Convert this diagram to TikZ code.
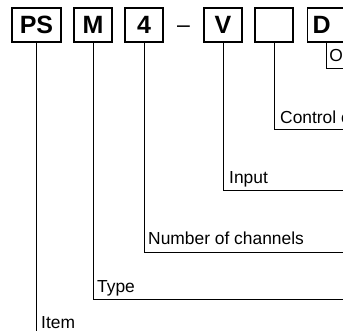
\documentclass[tikz,border=0pt]{standalone}
\usepackage{fontspec}
\setmainfont{Liberation Sans}
\begin{document}
\begin{tikzpicture}[
    x=1pt, y=-1pt,
    code/.style={draw, line width=1.1pt, inner sep=0pt, minimum height=34pt, minimum width=38pt, font=\fontsize{25}{28}\selectfont\bfseries},
    label/.style={anchor=base west, inner sep=0pt, font=\fontsize{17.4}{20}\selectfont},
    lead/.style={line width=0.9pt}
  ]
  \useasboundingbox (0,0) rectangle (343,331);

  % Code boxes of the type number
  \node[code, minimum width=49pt] (ps) at (36.5,25) {PS};
  \node[code] (m) at (93,25) {M};
  \node[code] (ch) at (144,25) {4};
  \node[anchor=base, font=\fontsize{23}{26}\selectfont, inner sep=0pt] (dash) at (183.5,32.5) {–};
  \node[code] (v) at (223,25) {V};
  \node[code] (ctl) at (274,25) {};
  \node[code, anchor=west, text width=40pt, align=left, inner xsep=5pt] (d) at (307,25) {D};
  \node[draw, line width=0.9pt, anchor=north west, minimum height=26pt, text width=30pt, align=left, inner xsep=3pt, font=\fontsize{17.4}{20}\selectfont] (opt) at (326,42) {O};

  % Ends of the leaders, beyond the right edge
  \coordinate (ctlEnd) at (360,129.3);
  \coordinate (inEnd) at (360,190);
  \coordinate (chEnd) at (360,252.3);
  \coordinate (mEnd) at (360,299.7);
  \coordinate (psEnd) at (360,345);

  % Leaders from each box
  \draw[lead] (ctl.south) |- (ctlEnd);
  \draw[lead] (v.south) |- (inEnd);
  \draw[lead] (ch.south) |- (chEnd);
  \draw[lead] (m.south) |- (mEnd);
  \draw[lead] (ps.south) |- (psEnd);

  % Labels above the leaders
  \node[label] (control) at (280,123.3) {Control c};
  \node[label] (input) at (229,183.3) {Input};
  \node[label] (number) at (148,245) {Number of channels};
  \node[label] (type) at (97,292.7) {Type};
  \node[label] (item) at (41,328) {Item};

\end{tikzpicture}
\end{document}
